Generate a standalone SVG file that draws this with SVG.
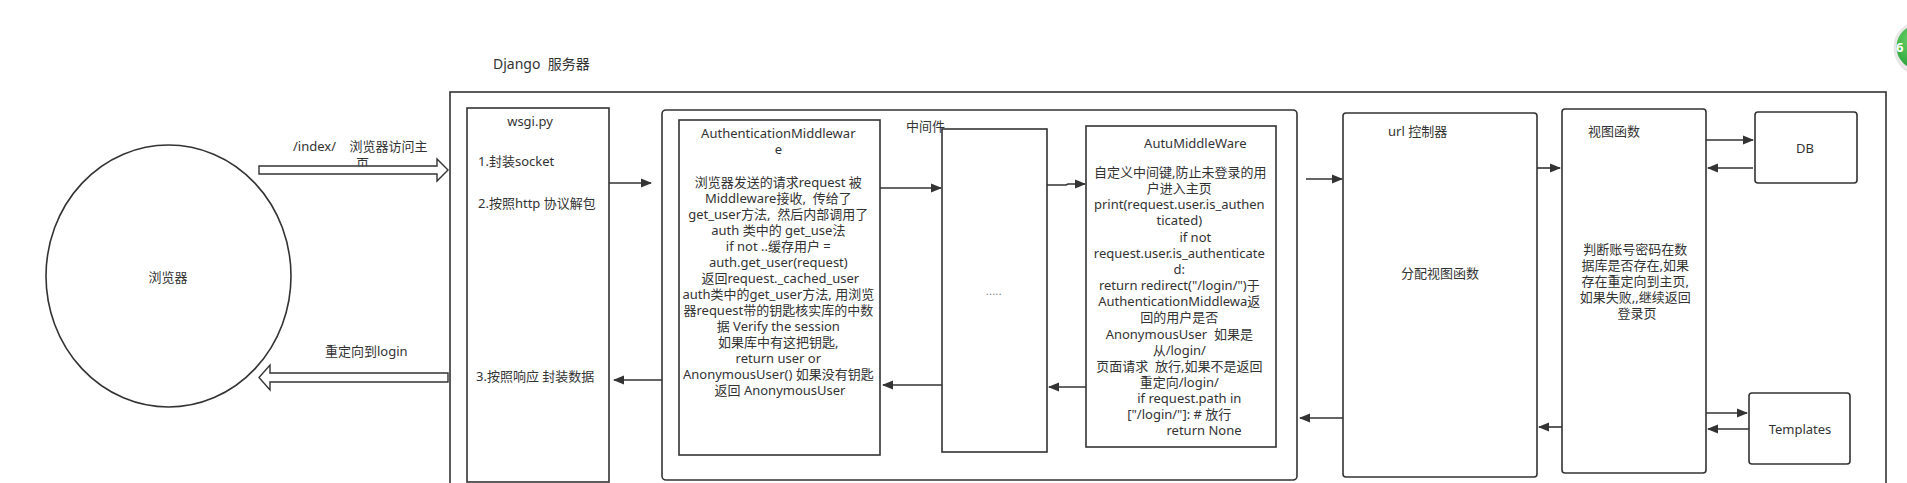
<svg xmlns="http://www.w3.org/2000/svg" width="1907" height="483" viewBox="0 0 1907 483">
<style>
.t{font-family:'Noto Sans','Noto Sans CJK SC',sans-serif;font-size:13px;fill:#333}
.c{text-anchor:middle}
.box{fill:#fff;stroke:#333;stroke-width:1.6}
.ln{fill:none;stroke:#333;stroke-width:1.6}
.hol{fill:#fff;stroke:#333;stroke-width:1.4;stroke-linejoin:miter}
.pre{white-space:pre}
</style>
<defs>
<marker id="ah" markerWidth="11" markerHeight="10" refX="10" refY="5" orient="auto" markerUnits="userSpaceOnUse">
<path d="M0,0.5 L11,5 L0,9.5 Z" fill="#333"/>
</marker>
<radialGradient id="gr" cx="0.4" cy="0.35" r="0.7">
<stop offset="0" stop-color="#6fd66b"/>
<stop offset="1" stop-color="#1f9a34"/>
</radialGradient>
</defs>
<rect width="1907" height="483" fill="#fff"/>

<g id="badge">
<circle cx="1920" cy="49" r="26" fill="#ccc" opacity="0.5"/>
<circle cx="1919" cy="47" r="24" fill="url(#gr)" stroke="#e8e8e8" stroke-width="3"/>
<text x="1896" y="52" style="font-family:'Noto Sans',sans-serif;font-size:13px;font-weight:bold;fill:#fff">6</text>
</g>

<g id="django-server">
<rect x="450" y="92" width="1436" height="400" class="box" fill="none"/>
<text x="493" y="69" class="t" style="font-size:14px" xml:space="preserve">Django  服务器</text>
</g>

<g id="browser">
<ellipse cx="168.5" cy="276" rx="122.5" ry="131" class="box"/>
<text x="168" y="282" class="t c">浏览器</text>
</g>

<g id="wsgi">
<rect x="467" y="108" width="142" height="374" class="box"/>
<text x="530" y="126" class="t c">wsgi.py</text>
<text x="478" y="166" class="t">1.封装socket</text>
<text x="478" y="208" class="t">2.按照http 协议解包</text>
<text x="476" y="381" class="t">3.按照响应 封装数据</text>
</g>

<g id="middleware">
<rect x="662" y="110" width="635" height="370" rx="4" class="box"/>
</g>

<g id="auth-middleware">
<rect x="679" y="120" width="201" height="335" class="box"/>
<text class="t c">
<tspan x="780" y="138">AuthenticationMiddlewar</tspan>
<tspan x="780" y="154">e</tspan>
<tspan x="780" y="187">浏览器发送的请求request 被</tspan>
<tspan x="780" y="203" class="pre">Middleware接收,  传给了</tspan>
<tspan x="780" y="219" class="pre">get_user方法,  然后内部调用了</tspan>
<tspan x="780" y="235">auth 类中的 get_use法</tspan>
<tspan x="780" y="251">if not ..缓存用户 =</tspan>
<tspan x="780" y="267">auth.get_user(request)</tspan>
<tspan x="782" y="283">返回request._cached_user</tspan>
<tspan x="780" y="299">auth类中的get_user方法, 用浏览</tspan>
<tspan x="780" y="315">器request带的钥匙核实库的中数</tspan>
<tspan x="780" y="331">据 Verify the session</tspan>
<tspan x="780" y="347">如果库中有这把钥匙,</tspan>
<tspan x="780" y="363">return user or</tspan>
<tspan x="780" y="379">AnonymousUser() 如果没有钥匙</tspan>
<tspan x="780" y="395">返回 AnonymousUser</tspan>
</text>
</g>

<g id="middle-dots">
<rect x="942" y="129" width="105" height="323" class="box"/>
<text x="994" y="295" class="t c" style="font-size:10px;fill:#777;letter-spacing:0.5px">.....</text>
</g>
<text x="906" y="131" class="t">中间件</text>

<g id="autu-middleware">
<rect x="1086" y="126" width="190" height="321" class="box"/>
<text class="t c">
<tspan x="1197" y="148">AutuMiddleWare</tspan>
<tspan x="1182" y="177">自定义中间键,防止未登录的用</tspan>
<tspan x="1181" y="193">户进入主页</tspan>
<tspan x="1181" y="209">print(request.user.is_authen</tspan>
<tspan x="1181" y="225">ticated)</tspan>
<tspan x="1197" y="242">if not</tspan>
<tspan x="1181" y="258">request.user.is_authenticate</tspan>
<tspan x="1181" y="274">d:</tspan>
<tspan x="1181" y="290">return redirect("/login/")于</tspan>
<tspan x="1181" y="306">AuthenticationMiddlewa返</tspan>
<tspan x="1181" y="322">回的用户是否</tspan>
<tspan x="1181" y="339" class="pre">AnonymousUser  如果是</tspan>
<tspan x="1181" y="355">从/login/</tspan>
<tspan x="1181" y="371" class="pre">页面请求  放行,如果不是返回</tspan>
<tspan x="1181" y="387">重定向/login/</tspan>
<tspan x="1191" y="403">if request.path in</tspan>
<tspan x="1181" y="419">["/login/"]: # 放行</tspan>
<tspan x="1204" y="435">return None</tspan>
</text>
</g>

<g id="url-controller">
<rect x="1343" y="113" width="194" height="364" rx="3" class="box"/>
<text x="1388" y="136" class="t">url 控制器</text>
<text x="1440" y="278" class="t c">分配视图函数</text>
</g>

<g id="view-function">
<rect x="1562" y="109" width="144" height="364" rx="3" class="box"/>
<text x="1588" y="136" class="t">视图函数</text>
<text class="t c">
<tspan x="1637" y="254">判断账号密码在数</tspan>
<tspan x="1637" y="270">据库是否存在,如果</tspan>
<tspan x="1637" y="286">存在重定向到主页,</tspan>
<tspan x="1637" y="302">如果失败,,继续返回</tspan>
<tspan x="1637" y="318">登录页</tspan>
</text>
</g>

<g id="db">
<rect x="1755" y="112" width="102" height="71" rx="3" class="box"/>
<text x="1805" y="153" class="t c">DB</text>
</g>

<g id="templates">
<rect x="1749" y="393" width="101" height="71" rx="3" class="box"/>
<text x="1800" y="434" class="t c">Templates</text>
</g>

<text x="293" y="151" class="t" xml:space="preserve">/index/    浏览器访问主</text>
<text x="356" y="168" class="t">页</text>
<text x="325" y="356" class="t">重定向到login</text>

<g id="connectors">
<polygon points="259,166 437,166 437,159 448,170 437,181 437,174 259,174" class="hol"/>
<polygon points="448,373 270,373 270,365 259,377.5 270,390 270,382 448,382" class="hol"/>
<line x1="609" y1="183" x2="651" y2="183" class="ln" marker-end="url(#ah)"/>
<line x1="662" y1="380" x2="614" y2="380" class="ln" marker-end="url(#ah)"/>
<line x1="880" y1="188" x2="941" y2="188" class="ln" marker-end="url(#ah)"/>
<line x1="942" y1="385" x2="883" y2="385" class="ln" marker-end="url(#ah)"/>
<polyline points="1047,185 1066,185 1068,184 1085,184" class="ln" marker-end="url(#ah)"/>
<line x1="1086" y1="387" x2="1049" y2="387" class="ln" marker-end="url(#ah)"/>
<line x1="1306" y1="179" x2="1342" y2="179" class="ln" marker-end="url(#ah)"/>
<line x1="1343" y1="418" x2="1300" y2="418" class="ln" marker-end="url(#ah)"/>
<line x1="1537" y1="168" x2="1560" y2="168" class="ln" marker-end="url(#ah)"/>
<line x1="1562" y1="427" x2="1539" y2="427" class="ln" marker-end="url(#ah)"/>
<line x1="1706" y1="140" x2="1753" y2="140" class="ln" marker-end="url(#ah)"/>
<line x1="1753" y1="168" x2="1708" y2="168" class="ln" marker-end="url(#ah)"/>
<line x1="1706" y1="413" x2="1747" y2="413" class="ln" marker-end="url(#ah)"/>
<line x1="1749" y1="429" x2="1708" y2="429" class="ln" marker-end="url(#ah)"/>
</g>
</svg>
